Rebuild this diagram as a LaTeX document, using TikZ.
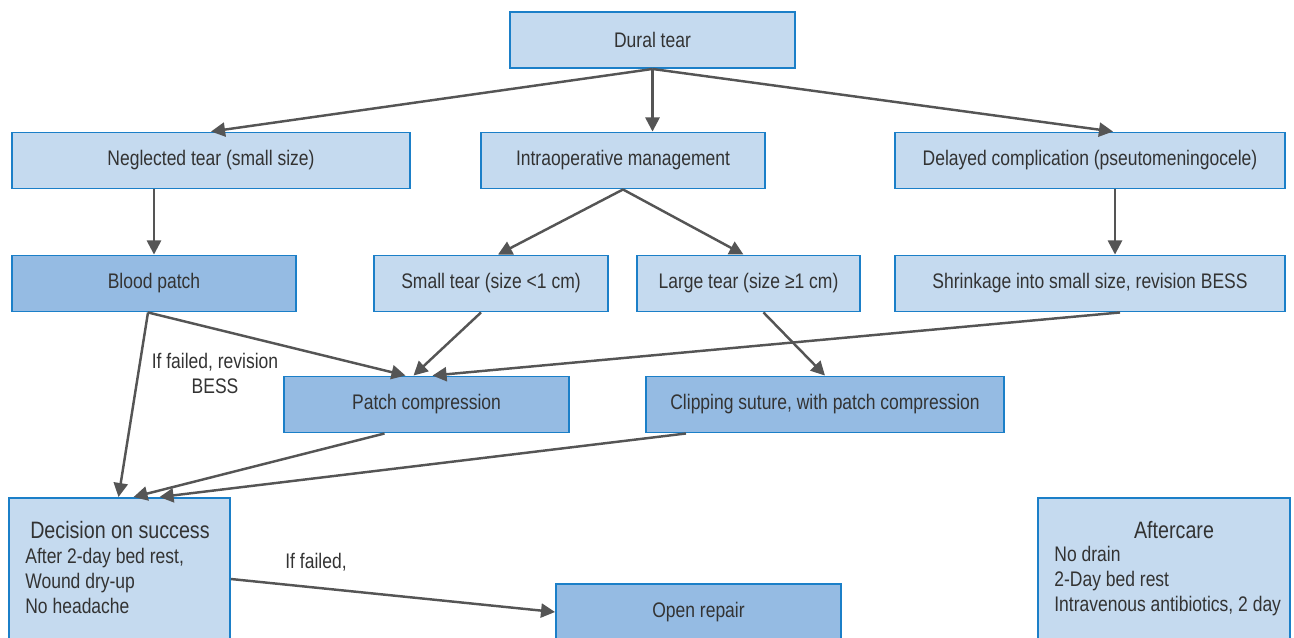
\documentclass[tikz,border=0pt]{standalone}
\usepackage{fontspec}
\setmainfont[FakeStretch=0.83]{Liberation Sans}
\usetikzlibrary{arrows.meta,calc}
\definecolor{boxline}{HTML}{1B7FC8}
\definecolor{lightfill}{HTML}{C5DAEF}
\definecolor{darkfill}{HTML}{95BBE3}
\definecolor{arrowgray}{HTML}{555555}
\definecolor{textgray}{HTML}{333333}

\begin{document}
\begin{tikzpicture}[x=0.02cm,y=-0.02cm,>={Triangle[length=8pt,width=8pt]},
  every node/.style={font=\fontsize{12}{14.2}\selectfont,text=textgray},
  box/.style={draw=boxline,fill=lightfill,line width=1.1pt,minimum height=1.12cm,inner sep=0pt},
  darkbox/.style={box,fill=darkfill},
  arr/.style={->,draw=arrowgray,line width=1.4pt}]
\useasboundingbox (0,0) rectangle (1294,637);
\node[box,minimum width=5.7cm] (dural) at (652.5,40) {Dural tear};
\node[box,minimum width=7.96cm] (neglected) at (211,160.5) {Neglected tear (small size)};
\node[box,minimum width=5.68cm] (intraop) at (623,160.5) {Intraoperative management};
\node[box,minimum width=7.8cm] (delayed) at (1090,160.5) {Delayed complication (pseutomeningocele)};
\node[darkbox,minimum width=5.68cm] (blood) at (154,283.5) {Blood patch};
\node[box,minimum width=4.68cm] (small) at (491,283.5) {Small tear (size <1 cm)};
\node[box,minimum width=4.46cm] (large) at (748.5,283.5) {Large tear (size ≥1 cm)};
\node[box,minimum width=7.8cm] (shrink) at (1090,283.5) {Shrinkage into small size, revision BESS};
\node[darkbox,minimum width=5.7cm] (patchc) at (426.5,404.5) {Patch compression};
\node[darkbox,minimum width=7.16cm] (clip) at (825,404.5) {Clipping suture, with patch compression};
\node[box,minimum width=4.42cm,minimum height=3.24cm] (dec) at (119.5,579) {};
\node[darkbox,minimum width=5.7cm] (open) at (698.5,612) {Open repair};
\node[box,minimum width=5.04cm,minimum height=3.24cm] (after) at (1164,579) {};
\node[font=\fontsize{13.5}{16}\selectfont] (dectitle) at (120,530) {Decision on success};
\node[anchor=west,align=left,inner sep=0pt] (declines) at (25,581) {After 2-day bed rest,\\Wound dry-up\\No headache};
\node[font=\fontsize{13.5}{16}\selectfont] (aftertitle) at (1174,530) {Aftercare};
\node[anchor=west,align=left,inner sep=0pt] (afterlines) at (1054,581) {No drain\\2-Day bed rest\\Intravenous antibiotics, 2 day};
\node[align=center] (revlabel) at (215,373) {If failed, revision\\BESS};
\node (faillabel) at (316,562) {If failed,};
\draw[arr] (dural.south) -- (neglected.north);
\draw[arr] (dural.south) -- (dural.south |- intraop.north);
\draw[arr] (dural.south) -- ($(delayed.north)+(23,0)$);
\draw[arr] (blood.north |- neglected.south) -- (blood.north);
\draw[arr] (intraop.south) -- ($(small.north)+(7,0)$);
\draw[arr] (intraop.south) -- ($(large.north)+(-5,0)$);
\draw[arr] ($(delayed.south)+(25,0)$) -- ($(shrink.north)+(25,0)$);
\draw[arr] ($(blood.south)+(-6,0)$) -- ($(patchc.north)+(-21,0)$);
\draw[arr] ($(blood.south)+(-6,0)$) -- ($(dec.north)+(-1,0)$);
\draw[arr] ($(small.south)+(-10,0)$) -- ($(patchc.north)+(-13,0)$);
\draw[arr] ($(shrink.south)+(30,0)$) -- ($(patchc.north)+(6,0)$);
\draw[arr] ($(large.south)+(15,0)$) -- (clip.north);
\draw[arr] ($(patchc.south)+(-42,0)$) -- ($(dec.north)+(14,0)$);
\draw[arr] ($(clip.south)+(-139,0)$) -- ($(dec.north)+(40,0)$);
\draw[arr] (dec.east) -- (open.west);
\end{tikzpicture}
\end{document}
